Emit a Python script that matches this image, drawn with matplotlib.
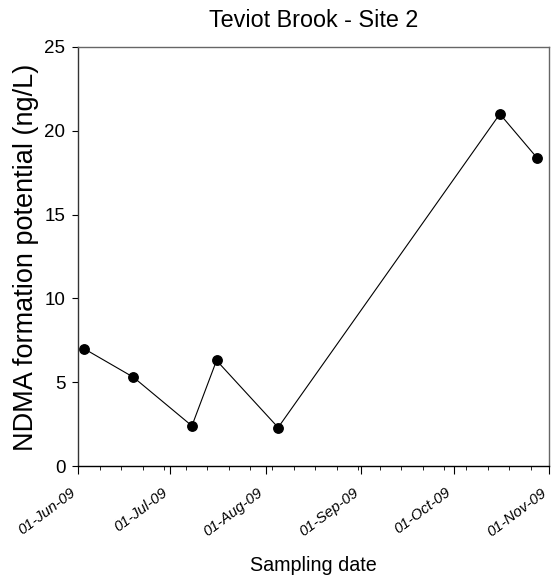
import datetime as dt
import matplotlib
matplotlib.use("Agg")
import matplotlib.pyplot as plt
import matplotlib.dates as mdates

plt.rcParams['font.family'] = ['Liberation Sans', 'DejaVu Sans']

# sampling dates and NDMA formation potential (ng/L)
dates = [dt.date(2009, 6, 3), dt.date(2009, 6, 19), dt.date(2009, 7, 8),
         dt.date(2009, 7, 16), dt.date(2009, 8, 5), dt.date(2009, 10, 16),
         dt.date(2009, 10, 28)]
ndma = [7.0, 5.3, 2.4, 6.3, 2.3, 21.0, 18.4]

fig = plt.figure(figsize=(5.53, 5.79), dpi=100)
ax = fig.add_axes([0.141, 0.195, 0.852, 0.724])

ax.plot(dates, ndma, color='black', lw=0.8, marker='o', ms=6.8, mfc='black', mec='black')

ax.set_xlim(dt.date(2009, 6, 1), dt.date(2009, 11, 1))
ax.set_ylim(0, 25)
ax.set_yticks([0, 5, 10, 15, 20, 25])

ax.xaxis.set_major_locator(mdates.MonthLocator(bymonthday=1))
ax.xaxis.set_major_formatter(mdates.DateFormatter('%d-%b-%y'))
ax.xaxis.set_minor_locator(mdates.WeekdayLocator(byweekday=mdates.MO))

for lab in ax.get_xticklabels():
    lab.set_rotation(37)
    lab.set_ha('right')
    lab.set_fontstyle('italic')
    lab.set_fontsize(10.8)
ax.tick_params(axis='y', labelsize=13.5, length=4, pad=5, direction='out')
ax.tick_params(axis='x', which='major', length=5.5, pad=8.5, direction='out')
ax.tick_params(axis='x', which='minor', length=3, direction='out')

for s in ax.spines.values():
    s.set_color('#666666')
    s.set_linewidth(1.0)
ax.spines['bottom'].set_color('black')
ax.spines['left'].set_color('#333333')

ax.set_title('Teviot Brook - Site 2', fontsize=16.8, pad=14)
ax.set_ylabel('NDMA formation potential (ng/L)', fontsize=19.5)
ax.yaxis.set_label_coords(-0.083, 0.497)
ax.set_xlabel('Sampling date', fontsize=14.2)
ax.xaxis.label.set_va('baseline')
ax.xaxis.set_label_coords(0.5, -0.25)

fig.savefig('out.png', dpi=100)
